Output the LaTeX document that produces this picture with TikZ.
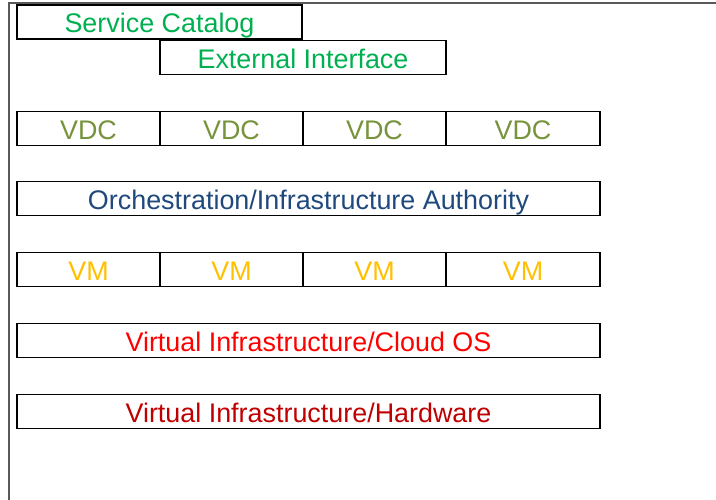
\documentclass[tikz,border=0pt]{standalone}
\usepackage{xcolor}
\usepackage{fontspec}
\setmainfont{Liberation Sans}
\usepackage{tikz}
\usetikzlibrary{positioning}

\definecolor{catgreen}{RGB}{0,176,80}
\definecolor{vdcgreen}{RGB}{119,147,60}
\definecolor{orchblue}{RGB}{31,73,125}
\definecolor{vmyellow}{RGB}{255,192,0}
\definecolor{osred}{RGB}{255,0,0}
\definecolor{hwred}{RGB}{192,0,0}

\tikzset{
  layer/.style={draw=black, line width=1.3pt, inner sep=0pt, minimum height=34pt,
    text height=21.6pt, text depth=0pt, font=\fontsize{26.9}{30}\selectfont},
  cell/.style={layer, minimum width=143pt},
  wide/.style={layer, minimum width=583pt}
}

\begin{document}
\begin{tikzpicture}[x=1pt, y=-1pt]
\useasboundingbox (0,0) rectangle (716,500);
\draw[gray!70!black, line width=1.2pt] (716,3) -- (9,3) -- (9,500);

\node[layer, minimum width=285pt, text=catgreen] (catalog) at (159.5,22) {Service Catalog};
\node[layer, minimum width=286pt, text=catgreen] (extif) at (303,57.5) {External Interface};

% VDC row
\foreach \i/\x in {1/88.5, 2/231.5, 3/374.5} {
  \node[cell, text=vdcgreen] (vdc\i) at (\x,128.5) {VDC};
}
\node[cell, minimum width=154pt, text=vdcgreen] (vdc4) at (523,128.5) {VDC};
\node[wide, text=orchblue] (orch) at (308.5,198.5) {Orchestration/Infrastructure Authority};

% VM row
\foreach \i/\x in {1/88.5, 2/231.5, 3/374.5} {
  \node[cell, text=vmyellow] (vm\i) at (\x,269.5) {VM};
}
\node[cell, minimum width=154pt, text=vmyellow] (vm4) at (523,269.5) {VM};
\node[wide, text=osred] (cloudos) at (308.5,340.5) {Virtual Infrastructure/Cloud OS};
\node[wide, text=hwred] (hardware) at (308.5,411.5) {Virtual Infrastructure/Hardware};
\end{tikzpicture}
\end{document}
